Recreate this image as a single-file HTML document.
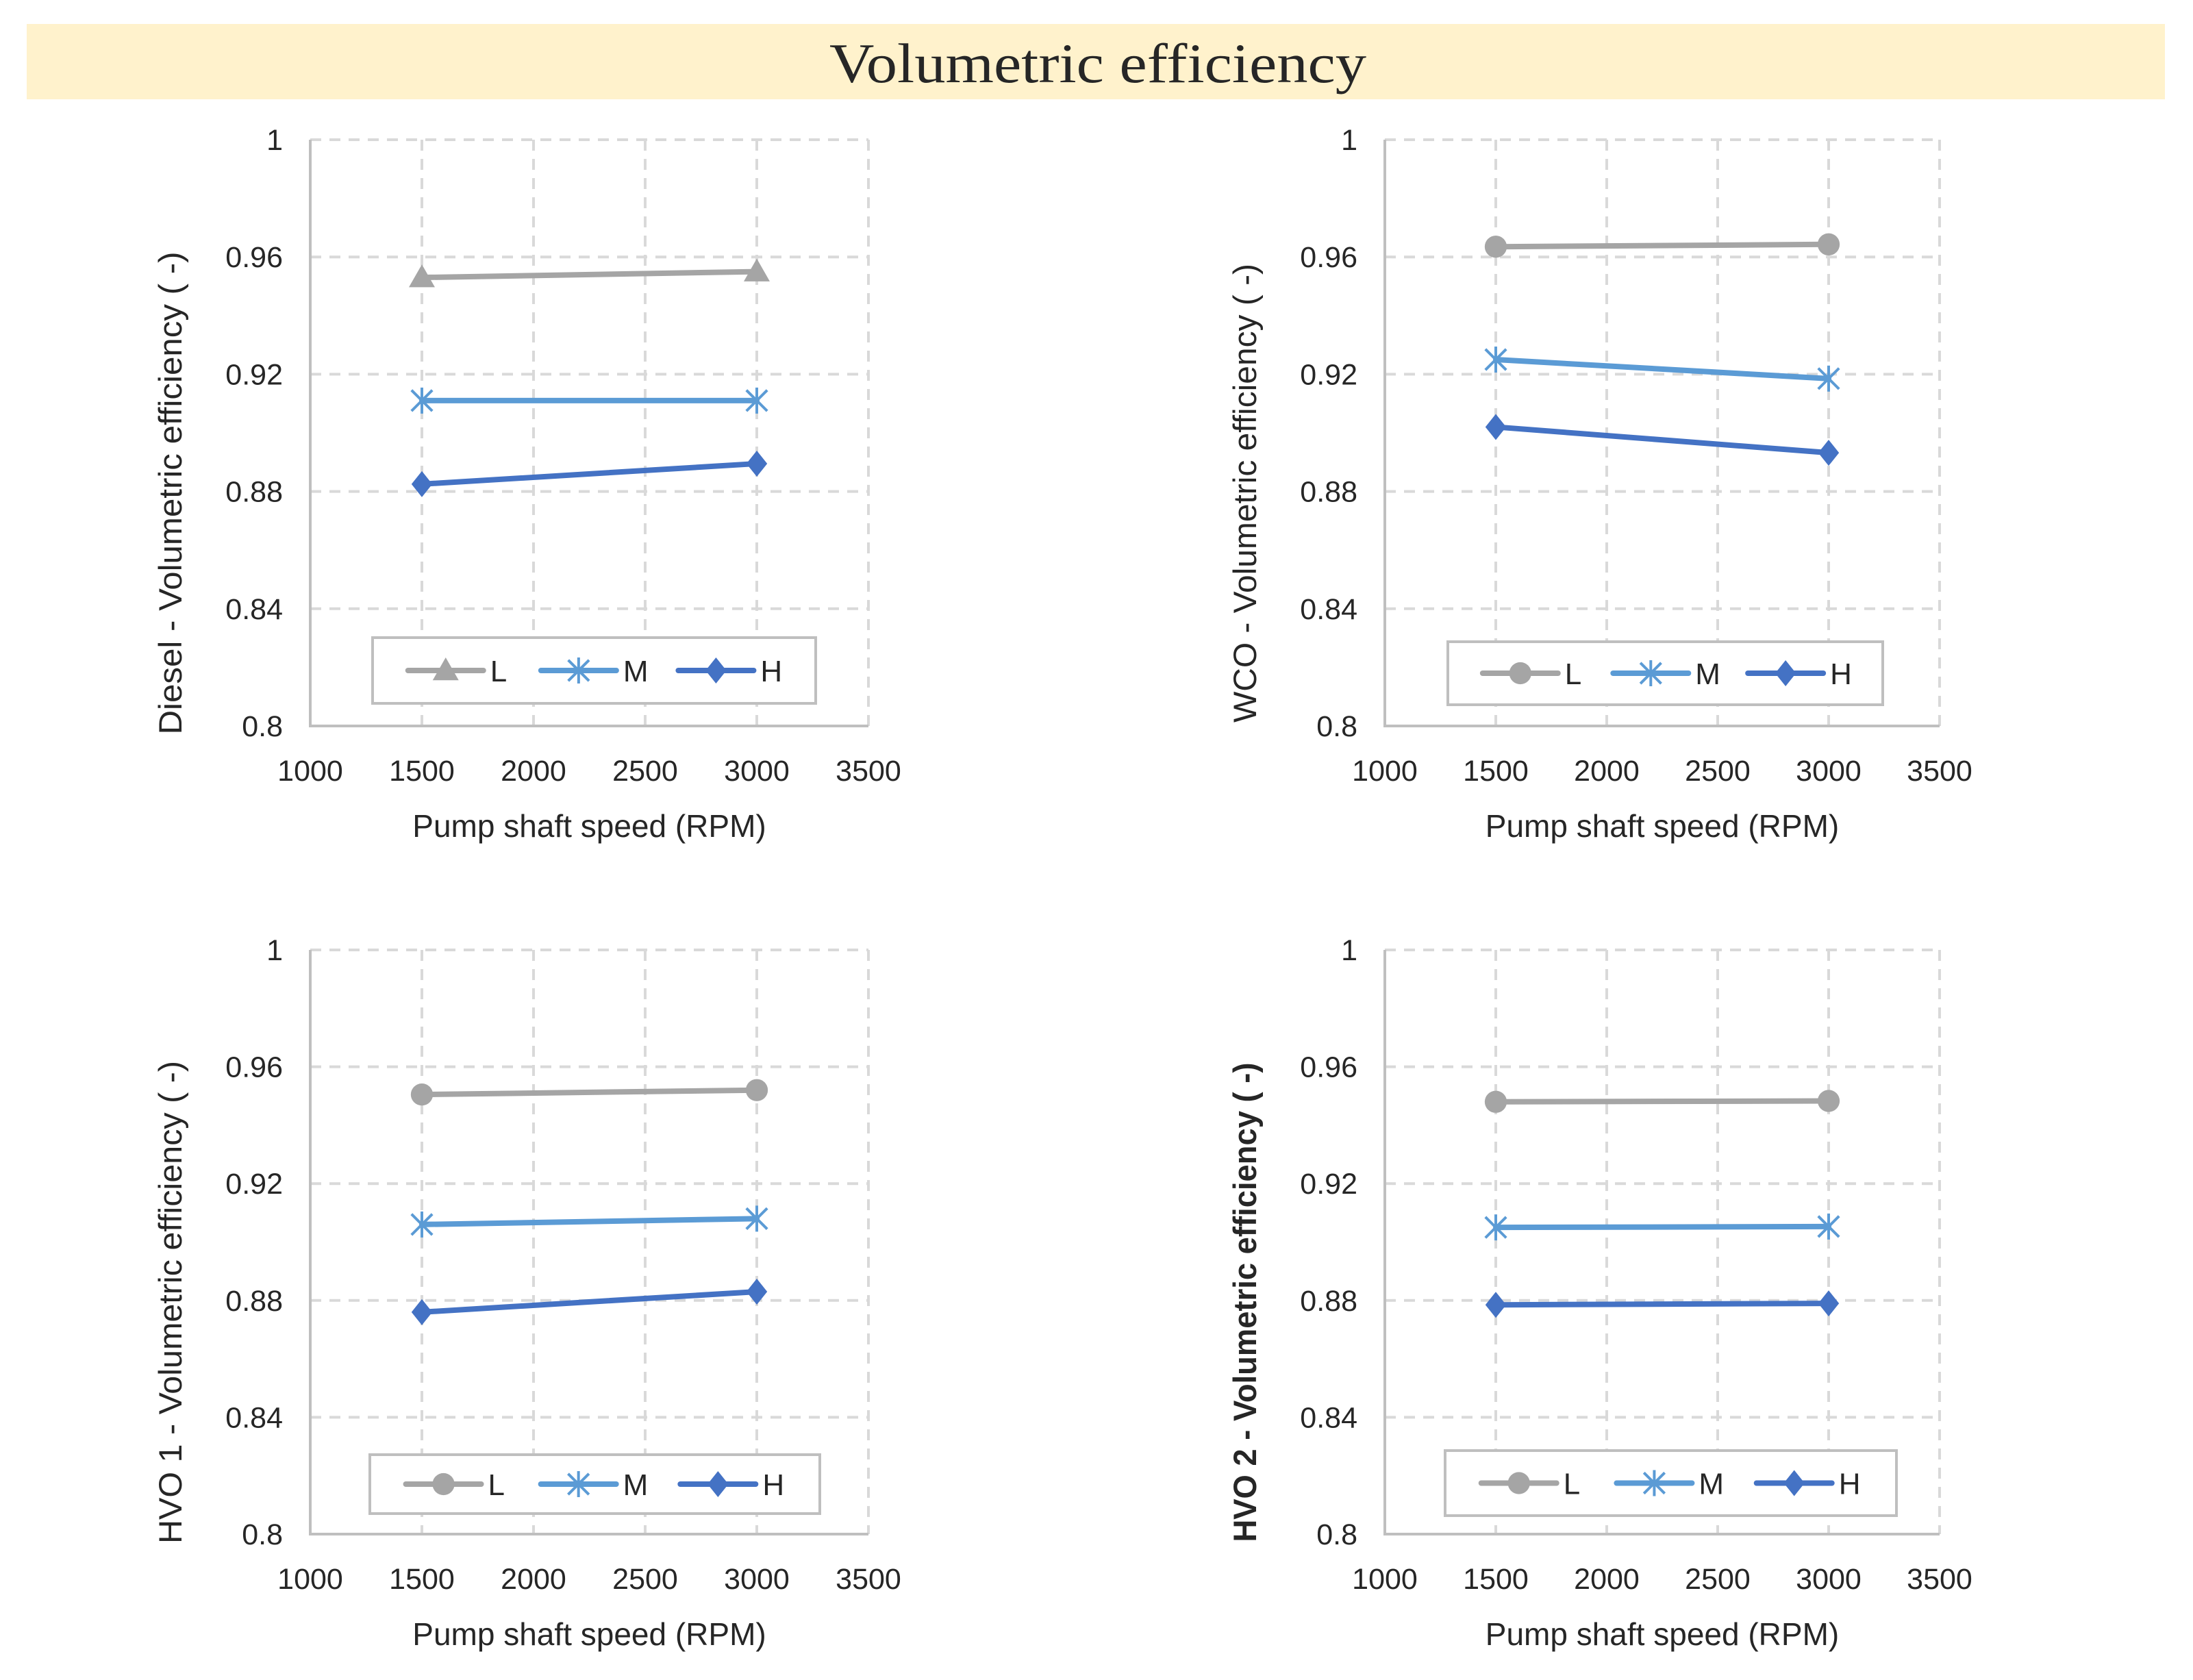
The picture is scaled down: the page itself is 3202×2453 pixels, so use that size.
<!DOCTYPE html>
<html><head><meta charset="utf-8"><style>
html,body{margin:0;padding:0;background:#fff}
svg{display:block}
text{font-family:"Liberation Sans",sans-serif;fill:#262626}
</style></head><body>
<svg id="fig" width="3202" height="2453" viewBox="0 0 3202 2453" xmlns="http://www.w3.org/2000/svg">
<rect x="39" y="35" width="3122" height="110" fill="#FFF2CC"/>
<text x="1603" y="120" text-anchor="middle" style="font-family:'Liberation Serif',serif;font-size:82px" textLength="784" lengthAdjust="spacingAndGlyphs">Volumetric efficiency</text>
</svg>
<script>
const xTicks=[1000,1500,2000,2500,3000,3500];
const yTicks=[0.8,0.84,0.88,0.92,0.96,1];
const yTickLabels=["0.8","0.84","0.88","0.92","0.96","1"];
const speeds=[1500,3000];
const seriesNames=["L","M","H"];
const dieselL=[0.953,0.955], dieselM=[0.911,0.911], dieselH=[0.8825,0.8895];
const wcoL=[0.9635,0.9643], wcoM=[0.925,0.9185], wcoH=[0.902,0.8932];
const hvo1L=[0.9505,0.952], hvo1M=[0.906,0.908], hvo1H=[0.876,0.883];
const hvo2L=[0.948,0.9483], hvo2M=[0.905,0.9053], hvo2H=[0.8785,0.879];
const yTitles=["Diesel - Volumetric efficiency ( -)","WCO - Volumetric efficiency ( -)","HVO 1 - Volumetric efficiency ( -)","HVO 2 - Volumetric efficiency ( -)"];

const NS="http://www.w3.org/2000/svg";
const svg=document.getElementById('fig');
const colors=["#A5A5A5","#5B9BD5","#4472C4"];
const markers=["tri","star","diamond"];
function mk(tag,attrs,parent){const e=document.createElementNS(NS,tag);for(const k in attrs)e.setAttribute(k,attrs[k]);(parent||svg).appendChild(e);return e;}

function marker(g,type,cx,cy,col,s){
  if(type==="tri"){return mk('polygon',{points:`${cx},${cy-s} ${cx-s},${cy+s*0.75} ${cx+s},${cy+s*0.75}`,fill:col},g);}
  if(type==="circle"){return mk('circle',{cx:cx,cy:cy,r:s*0.85,fill:col},g);}
  if(type==="diamond"){return mk('polygon',{points:`${cx},${cy-s} ${cx+s*0.8},${cy} ${cx},${cy+s} ${cx-s*0.8},${cy}`,fill:col},g);}
  const m=mk('g',{stroke:col,'stroke-width':4},g);
  mk('line',{x1:cx-s*0.8,y1:cy-s*0.8,x2:cx+s*0.8,y2:cy+s*0.8},m);
  mk('line',{x1:cx-s*0.8,y1:cy+s*0.8,x2:cx+s*0.8,y2:cy-s*0.8},m);
  mk('line',{x1:cx,y1:cy-s,x2:cx,y2:cy+s},m);
  return m;
}

function chart(idx,x0,x1,y0,y1,data,lType,legend,titleBold){
  const g=mk('g',{});
  
  
  const X=v=>x0+(v-1000)/2500*(x1-x0);
  const Y=v=>y1-(v-0.8)/0.2*(y1-y0);
  xTicks.forEach(t=>{const l=mk('line',{x1:X(t),x2:X(t),y1:y0,y2:y1,stroke:'#D9D9D9','stroke-width':4,'stroke-dasharray':'16,12'},g);
    
    });
  yTicks.forEach(t=>{const l=mk('line',{x1:x0,x2:x1,y1:Y(t),y2:Y(t),stroke:'#D9D9D9','stroke-width':4,'stroke-dasharray':'16,12'},g);
    
    });
  const ax=mk('path',{d:`M${x0},${y0} V${y1} H${x1}`,fill:'none',stroke:'#BFBFBF','stroke-width':4},g);
  
  
  xTicks.forEach(t=>{const tx=mk('text',{x:X(t),y:y1+80,'text-anchor':'middle','font-size':43},g);tx.textContent=t;
    
    });
  yTicks.forEach((t,i)=>{const tx=mk('text',{x:x0-40,y:Y(t)+15,'text-anchor':'end','font-size':43},g);tx.textContent=yTickLabels[i];
    
    });
  const xt=mk('text',{x:(x0+x1)/2,y:y1+162,'text-anchor':'middle','font-size':46},g);xt.textContent="Pump shaft speed (RPM)";
  
  
  const yc=(y0+y1)/2+88, yx=x0-188;
  const yt=mk('text',{x:yx,y:yc,'text-anchor':'middle','font-size':47,transform:`rotate(-90 ${yx} ${yc})`,'font-weight':titleBold?'bold':'normal',textLength:titleBold?700:(idx===1?670:705),lengthAdjust:'spacingAndGlyphs'},g);
  yt.textContent=yTitles[idx];
  
  
  data.forEach((vals,s)=>{
    const sg=mk('g',{},g);
    
    
    const pts=speeds.map((sp,i)=>`${X(sp)},${Y(vals[i])}`).join(' ');
    const pl=mk('polyline',{points:pts,fill:'none',stroke:colors[s],'stroke-width':8,'stroke-linecap':'round'},sg);
    
    
    speeds.forEach((sp,i)=>{const m=marker(sg,s===0?lType:markers[s],X(sp),Y(vals[i]),colors[s],19);
      
      });
  });
  const [lx0,ly0,lx1,ly1]=legend;
  const lg=mk('g',{},g);
  
  
  mk('rect',{x:lx0,y:ly0,width:lx1-lx0,height:ly1-ly0,fill:'#fff',stroke:'#BFBFBF','stroke-width':4},lg);
  const w=lx1-lx0, cy=(ly0+ly1)/2;
  [0.08,0.38,0.69].forEach((f,s)=>{
    const ex=lx0+w*f;
    const eg=mk('g',{},lg);
    
    
    mk('line',{x1:ex,x2:ex+110,y1:cy,y2:cy,stroke:colors[s],'stroke-width':8,'stroke-linecap':'round'},eg);
    marker(eg,s===0?lType:markers[s],ex+55,cy,colors[s],19);
    const t=mk('text',{x:ex+120,y:cy+16,'font-size':44},eg);t.textContent=seriesNames[s];
  });
}
chart(0,453,1268,204,1060,[dieselL,dieselM,dieselH],"tri",[544,931,1191,1027],false);
chart(1,2022,2832,204,1060,[wcoL,wcoM,wcoH],"circle",[2114,937,2749,1029],false);
chart(2,453,1268,1387,2240,[hvo1L,hvo1M,hvo1H],"circle",[540,2124,1197,2210],false);
chart(3,2022,2832,1387,2240,[hvo2L,hvo2M,hvo2H],"circle",[2110,2118,2769,2213],true);
</script>
</body></html>
